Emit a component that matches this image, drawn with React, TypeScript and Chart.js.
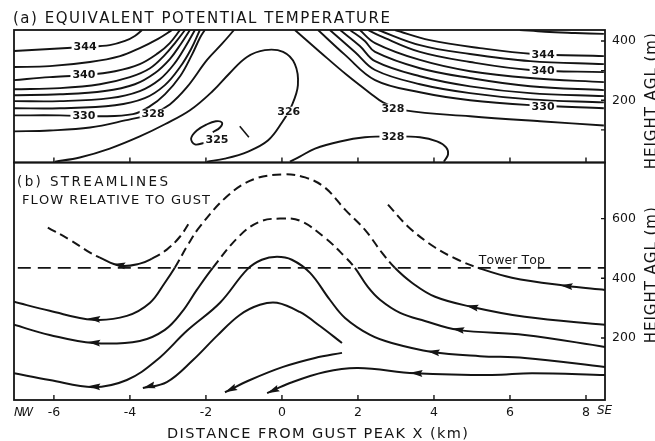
import React, { useEffect, useRef } from 'react';
import { Chart, registerables } from 'chart.js';

Chart.register(...registerables);

// ---------------- data: x in km from gust peak, y in m AGL ----------------
const X_MIN = -7.05;
const X_MAX = 8.5;
const X_TICKS = [-6, -4, -2, 0, 2, 4, 6, 8];

const THETA_Y_MIN = -10;
const THETA_Y_MAX = 437;
const THETA_Y_TICKS = [100, 200, 300, 400];
const THETA_Y_LABELED = [200, 400];

const FLOW_Y_MIN = -8;
const FLOW_Y_MAX = 788;
const FLOW_Y_TICKS = [200, 400, 600];

const TOWER_TOP_M = 435;
const TOWER_X = [-6.95, 8.5];
const TOWER_LABEL_X = 5.18;

// (a) equivalent potential temperature contours (K)
const TH346_X = [6.26, 6.92, 7.71, 8.47];
const TH346_Y = [437, 431, 427, 424];
const TH344R_X = [2.97, 3.89, 5.21, 6.61, 8.47];
const TH344R_Y = [437, 403, 376, 356, 349];
const TH342R_X = [2.53, 3.63, 4.95, 6.53, 8.47];
const TH342R_Y = [437, 386, 356, 332, 322];
const TH340R_X = [2.26, 2.58, 3.63, 4.95, 6.53, 8.47];
const TH340R_Y = [437, 417, 363, 329, 302, 295];
const TH338R_X = [2.05, 2.45, 3.63, 4.95, 6.53, 8.47];
const TH338R_Y = [437, 393, 336, 298, 275, 261];
const TH336R_X = [1.79, 2.18, 2.45, 3.63, 4.95, 6.53, 8.47];
const TH336R_Y = [437, 400, 363, 308, 275, 247, 234];
const TH334R_X = [1.53, 2.05, 2.45, 3.63, 4.95, 6.53, 8.47];
const TH334R_Y = [437, 383, 332, 281, 247, 224, 214];
const TH332R_X = [1.26, 1.92, 2.45, 3.63, 4.95, 6.53, 8.47];
const TH332R_Y = [437, 363, 302, 254, 224, 203, 193];
const TH330R_X = [0.95, 1.66, 2.45, 3.63, 4.95, 6.61, 8.47];
const TH330R_Y = [437, 353, 268, 227, 200, 183, 173];
const TH328R_X = [0.34, 1.0, 1.71, 2.32, 2.66, 3.24, 4.95, 6.79, 8.47];
const TH328R_Y = [437, 363, 285, 224, 193, 166, 146, 129, 115];

const TH344L_X = [-7.05, -6.11, -5.18, -4.53, -4.13, -3.87, -3.68];
const TH344L_Y = [366, 373, 380, 386, 400, 417, 437];
const TH342L_X = [-7.05, -6.11, -5.05, -4.26, -3.74, -3.26, -2.89];
const TH342L_Y = [312, 315, 329, 349, 376, 407, 437];
const TH340L_X = [-7.05, -6.11, -5.18, -4.39, -3.74, -3.26, -2.95, -2.68];
const TH340L_Y = [268, 278, 285, 298, 322, 359, 393, 437];
const TH338L_X = [-7.05, -5.84, -4.79, -4.0, -3.47, -3.08, -2.79, -2.55];
const TH338L_Y = [237, 241, 254, 278, 308, 353, 397, 437];
const TH336L_X = [-7.05, -5.84, -4.66, -3.87, -3.34, -2.95, -2.66, -2.42];
const TH336L_Y = [217, 220, 231, 254, 292, 339, 390, 437];
const TH334L_X = [-7.05, -5.84, -4.53, -3.74, -3.21, -2.82, -2.53, -2.29];
const TH334L_Y = [197, 197, 207, 231, 271, 325, 383, 437];
const TH332L_X = [-7.05, -5.84, -4.39, -3.61, -3.08, -2.68, -2.39, -2.16];
const TH332L_Y = [173, 173, 183, 207, 251, 312, 373, 437];
const TH330L_X = [-7.05, -5.84, -4.79, -3.92, -3.47, -3.08, -2.68, -2.37, -2.16, -2.03];
const TH330L_Y = [149, 149, 146, 153, 180, 220, 281, 353, 410, 437];
const TH328L_X = [-7.05, -6.11, -5.05, -4.13, -3.39, -2.95, -2.5, -1.97, -1.58, -1.26];
const TH328L_Y = [95, 98, 108, 132, 156, 186, 244, 336, 390, 437];

const TH326_X = [-5.97, -5.32, -4.53, -3.74, -3.08, -2.42, -1.82, -1.37, -0.92, -0.45, 0.03, 0.34, 0.42, 0.26, 0, -0.37, -0.89, -1.5, -1.97];
const TH326_Y = [-7, 7, 37, 78, 119, 166, 231, 292, 346, 369, 363, 322, 251, 183, 125, 64, 27, 3, -7];
const TH325_X = [-2.0, -2.29, -2.39, -2.24, -1.97, -1.74, -1.58, -1.63, -1.82];
const TH325_Y = [58, 51, 71, 98, 119, 129, 125, 108, 92];
const TH328B_X = [0.21, 0.47, 0.87, 1.53, 2.18, 2.92, 3.63, 4.08, 4.32, 4.37, 4.26];
const TH328B_Y = [-7, 10, 37, 61, 75, 78, 75, 61, 41, 17, -7];
const MARK_X = [-1.11, -0.87];
const MARK_Y = [112, 75];

const THETA_LABELS = [
  { text: '344', x: -5.18, y: 380 },
  { text: '340', x: -5.21, y: 285 },
  { text: '330', x: -5.21, y: 149 },
  { text: '328', x: -3.39, y: 156 },
  { text: '325', x: -1.71, y: 68 },
  { text: '326', x: 0.18, y: 163 },
  { text: '328', x: 2.92, y: 173 },
  { text: '328', x: 2.92, y: 78 },
  { text: '344', x: 6.87, y: 353 },
  { text: '340', x: 6.87, y: 300 },
  { text: '330', x: 6.87, y: 180 },
];

// (b) streamlines, flow relative to gust
const SA_X = [-6.16, -5.58, -5.05, -4.79, -4.26, -3.74, -3.42, -3.03, -2.68, -2.42];
const SA_Y = [570, 529, 486, 469, 442, 449, 466, 496, 540, 590];
const SB_X = [-7.05, -6.11, -4.97, -4.08, -3.47, -3.08, -2.82, -2.47, -2.16, -1.45, -0.76, 0.03, 0.61, 1.13, 1.66, 2.18, 2.63, 2.97, 3.42, 4.03, 5.0, 6.39, 8.5];
const SB_Y = [321, 291, 261, 274, 318, 385, 435, 513, 573, 674, 731, 748, 738, 704, 630, 563, 486, 435, 385, 338, 304, 271, 244];
const SC_X = [-7.05, -6.11, -4.97, -3.74, -3.08, -2.63, -2.24, -1.82, -1.11, -0.58, -0.05, 0.47, 1.13, 1.66, 1.92, 2.26, 2.58, 3.11, 3.76, 4.63, 6.39, 8.5];
const SC_Y = [244, 210, 183, 190, 227, 287, 361, 435, 543, 590, 600, 593, 536, 472, 435, 371, 328, 284, 257, 227, 210, 170];
const SD_X = [-7.05, -6.11, -4.97, -4.08, -3.29, -2.5, -1.63, -0.92, -0.53, -0.13, 0.26, 0.74, 1.26, 1.66, 2.32, 2.89, 3.95, 5.21, 6.39, 8.5];
const SD_Y = [82, 59, 35, 59, 126, 224, 318, 429, 462, 472, 462, 418, 328, 267, 210, 183, 153, 139, 133, 103];
const SE_X = [-3.66, -3.03, -2.34, -1.71, -1.11, -0.58, -0.13, 0.47, 1.0, 1.58];
const SE_Y = [32, 52, 126, 207, 277, 311, 318, 287, 240, 183];
const SF_X = [-1.5, -0.84, 0.03, 0.87, 1.58];
const SF_Y = [18, 59, 103, 133, 150];
const SG_X = [-0.39, 0.21, 1.13, 2.0, 3.5, 5.53, 6.58, 8.5];
const SG_Y = [15, 49, 86, 99, 82, 76, 82, 76];
const SR_X = [2.79, 3.32, 4.03, 4.63, 5.16, 6.05, 7.45, 8.5];
const SR_Y = [647, 573, 503, 462, 435, 402, 375, 361];

// arrowheads: tip (x, y) and a point just upstream (x, y)
const ARROWS = [
  [-4.45, 448, -4.13, 442],
  [-5.11, 265, -4.79, 262],
  [-5.11, 186, -4.79, 183],
  [-5.11, 38, -4.79, 36],
  [-3.66, 32, -3.36, 42],
  [-1.5, 18, -1.22, 35],
  [-0.39, 15, -0.1, 31],
  [4.84, 309, 5.16, 300],
  [4.47, 232, 4.79, 225],
  [3.82, 156, 4.13, 150],
  [3.37, 83, 3.68, 81],
  [7.32, 377, 7.63, 372],
];

// ---------------- styles ----------------
const INK = '#141414';
const FONT = '"DejaVu Sans", "Liberation Sans", sans-serif';

const THETA_CONTOURS: [number[], number[]][] = [
  [TH346_X, TH346_Y], [TH344R_X, TH344R_Y], [TH342R_X, TH342R_Y], [TH340R_X, TH340R_Y],
  [TH338R_X, TH338R_Y], [TH336R_X, TH336R_Y], [TH334R_X, TH334R_Y], [TH332R_X, TH332R_Y],
  [TH330R_X, TH330R_Y], [TH328R_X, TH328R_Y],
  [TH344L_X, TH344L_Y], [TH342L_X, TH342L_Y], [TH340L_X, TH340L_Y], [TH338L_X, TH338L_Y],
  [TH336L_X, TH336L_Y], [TH334L_X, TH334L_Y], [TH332L_X, TH332L_Y], [TH330L_X, TH330L_Y],
  [TH328L_X, TH328L_Y], [TH326_X, TH326_Y], [TH325_X, TH325_Y], [TH328B_X, TH328B_Y],
];

const STREAMLINES: { xs: number[]; ys: number[]; dashAbove: number }[] = [
  { xs: SA_X, ys: SA_Y, dashAbove: 465 },
  { xs: SB_X, ys: SB_Y, dashAbove: TOWER_TOP_M },
  { xs: SC_X, ys: SC_Y, dashAbove: TOWER_TOP_M },
  { xs: SD_X, ys: SD_Y, dashAbove: Infinity },
  { xs: SE_X, ys: SE_Y, dashAbove: Infinity },
  { xs: SF_X, ys: SF_Y, dashAbove: Infinity },
  { xs: SG_X, ys: SG_Y, dashAbove: Infinity },
  { xs: SR_X, ys: SR_Y, dashAbove: TOWER_TOP_M },
];

const pts = (xs: number[], ys: number[]) => xs.map((x, i) => ({ x, y: ys[i] }));

function spacedText(ctx: CanvasRenderingContext2D, text: string, x: number, y: number, width: number, font: string) {
  ctx.font = font;
  const chars = Array.from(text);
  const widths = chars.map((c) => ctx.measureText(c).width);
  const natural = widths.reduce((a, b) => a + b, 0);
  const gap = chars.length > 1 ? (width - natural) / (chars.length - 1) : 0;
  let cx = x;
  chars.forEach((c, i) => {
    ctx.fillText(c, cx, y);
    cx += widths[i] + gap;
  });
}

const figurePlugin = {
  id: 'figureOverlay',
  afterDatasetsDraw(chart: any) {
    const { ctx, chartArea: area } = chart;
    const xs = chart.scales.x;
    const ya = chart.scales.ya;
    const yb = chart.scales.yb;
    ctx.save();

    // contour labels knocked out of the lines
    ctx.font = `bold 11px ${FONT}`;
    ctx.textAlign = 'center';
    ctx.textBaseline = 'middle';
    THETA_LABELS.forEach((l) => {
      const px = xs.getPixelForValue(l.x);
      const py = ya.getPixelForValue(l.y);
      const w = ctx.measureText(l.text).width;
      ctx.fillStyle = '#fff';
      ctx.fillRect(px - w / 2 - 2, py - 4.5, w + 4, 9);
      ctx.fillStyle = INK;
      ctx.fillText(l.text, px, py + 0.5);
    });

    // arrowheads
    ctx.fillStyle = INK;
    ARROWS.forEach(([tx, ty, bx, by]) => {
      const x1 = xs.getPixelForValue(tx);
      const y1 = yb.getPixelForValue(ty);
      const x0 = xs.getPixelForValue(bx);
      const y0 = yb.getPixelForValue(by);
      const a = Math.atan2(y1 - y0, x1 - x0);
      const L = 12.5;
      const H = 3.4;
      const c = Math.cos(a);
      const s = Math.sin(a);
      ctx.beginPath();
      ctx.moveTo(x1, y1);
      ctx.lineTo(x1 - L * c + H * s, y1 - L * s - H * c);
      ctx.lineTo(x1 - L * 0.85 * c, y1 - L * 0.85 * s);
      ctx.lineTo(x1 - L * c - H * s, y1 - L * s + H * c);
      ctx.closePath();
      ctx.fill();
    });

    // frames
    ctx.strokeStyle = INK;
    ctx.lineWidth = 1.8;
    ctx.strokeRect(area.left, ya.top, area.right - area.left, ya.bottom - ya.top);
    ctx.strokeRect(area.left, yb.top, area.right - area.left, yb.bottom - yb.top);

    // inside tick marks
    ctx.lineWidth = 1.4;
    ctx.beginPath();
    X_TICKS.forEach((v) => {
      const px = xs.getPixelForValue(v);
      ctx.moveTo(px, ya.bottom);
      ctx.lineTo(px, ya.bottom - 5);
      ctx.moveTo(px, yb.bottom);
      ctx.lineTo(px, yb.bottom - 5);
    });
    THETA_Y_TICKS.forEach((v) => {
      const py = ya.getPixelForValue(v);
      ctx.moveTo(area.right, py);
      ctx.lineTo(area.right - 4, py);
    });
    FLOW_Y_TICKS.forEach((v) => {
      const py = yb.getPixelForValue(v);
      ctx.moveTo(area.right, py);
      ctx.lineTo(area.right - 4, py);
    });
    ctx.stroke();

    // texts
    ctx.fillStyle = INK;
    ctx.textAlign = 'left';
    ctx.textBaseline = 'alphabetic';
    spacedText(ctx, '(a) EQUIVALENT POTENTIAL TEMPERATURE', area.left - 1, area.top - 7, 377, `15px ${FONT}`);
    spacedText(ctx, '(b) STREAMLINES', area.left + 3, yb.top + 23.5, 151, `13.5px ${FONT}`);
    spacedText(ctx, 'FLOW RELATIVE TO GUST', area.left + 8, yb.top + 41.5, 188, `13px ${FONT}`);
    spacedText(ctx, 'Tower Top', xs.getPixelForValue(TOWER_LABEL_X), yb.getPixelForValue(TOWER_TOP_M) - 4, 66, `12.5px ${FONT}`);
    spacedText(ctx, 'DISTANCE FROM GUST PEAK X (km)', area.left + 153, yb.bottom + 38, 301, `14.5px ${FONT}`);
    spacedText(ctx, 'NW', area.left, yb.bottom + 16, 19, `italic 12px ${FONT}`);
    spacedText(ctx, 'SE', area.right - 8, yb.bottom + 14, 15, `italic 12px ${FONT}`);

    [(ya.top + ya.bottom) / 2 + 5, (yb.top + yb.bottom) / 2 - 6].forEach((cy) => {
      ctx.save();
      ctx.translate(area.right + 51, cy);
      ctx.rotate(-Math.PI / 2);
      spacedText(ctx, 'HEIGHT AGL (m)', -68, 0, 136, `15px ${FONT}`);
      ctx.restore();
    });

    ctx.restore();
  },
};

function buildDatasets() {
  const ds: any[] = [];
  THETA_CONTOURS.forEach(([xArr, yArr]) => {
    ds.push({
      data: pts(xArr, yArr),
      yAxisID: 'ya',
      borderColor: INK,
      borderWidth: 1.9,
      pointRadius: 0,
      pointHoverRadius: 0,
      tension: 0.38,
      fill: false,
    });
  });
  ds.push({
    data: pts(MARK_X, MARK_Y),
    yAxisID: 'ya',
    borderColor: INK,
    borderWidth: 1.6,
    pointRadius: 0,
    tension: 0,
    fill: false,
  });
  STREAMLINES.forEach((s) => {
    const thr = s.dashAbove;
    ds.push({
      data: pts(s.xs, s.ys),
      yAxisID: 'yb',
      borderColor: INK,
      borderWidth: 2,
      pointRadius: 0,
      pointHoverRadius: 0,
      tension: 0.38,
      fill: false,
      segment: {
        borderDash: (c: any) => (c.p0.parsed.y >= thr && c.p1.parsed.y >= thr ? [9, 5] : undefined),
      },
    });
  });
  ds.push({
    data: pts(TOWER_X, [TOWER_TOP_M, TOWER_TOP_M]),
    yAxisID: 'yb',
    borderColor: INK,
    borderWidth: 1.7,
    borderDash: [13, 7],
    pointRadius: 0,
    tension: 0,
    fill: false,
  });
  return ds;
}

const tickFont = { family: FONT, size: 12.5 };

export default function App() {
  const ref = useRef<HTMLCanvasElement>(null);
  useEffect(() => {
    const canvas = ref.current;
    if (!canvas) return;
    const chart = new Chart(canvas, {
      type: 'line',
      data: { datasets: buildDatasets() },
      plugins: [figurePlugin],
      options: {
        animation: false,
        responsive: false,
        maintainAspectRatio: false,
        events: [],
        layout: { padding: { left: 14, top: 30, right: 10, bottom: 21 } },
        plugins: { legend: { display: false }, tooltip: { enabled: false }, title: { display: false } },
        scales: {
          x: {
            type: 'linear',
            position: 'bottom',
            min: X_MIN,
            max: X_MAX,
            grid: { display: false, drawTicks: false },
            border: { display: false },
            afterBuildTicks: (s: any) => {
              s.ticks = X_TICKS.map((v) => ({ value: v }));
            },
            afterFit: (s: any) => {
              s.height = 20;
            },
            ticks: { font: tickFont, color: INK, padding: 5, maxRotation: 0, autoSkip: false, callback: (v: any) => String(v) },
          },
          ya: {
            type: 'linear',
            position: 'right',
            stack: 'panels',
            stackWeight: 132.5,
            min: THETA_Y_MIN,
            max: THETA_Y_MAX,
            grid: { display: false, drawTicks: false },
            border: { display: false },
            afterBuildTicks: (s: any) => {
              s.ticks = THETA_Y_TICKS.map((v) => ({ value: v }));
            },
            afterFit: (s: any) => {
              s.width = 40;
            },
            ticks: {
              font: tickFont,
              color: INK,
              padding: 7,
              autoSkip: false,
              callback: (v: any) => (THETA_Y_LABELED.includes(Number(v)) ? String(v) : ''),
            },
          },
          yb: {
            type: 'linear',
            position: 'right',
            stack: 'panels',
            stackWeight: 237.5,
            min: FLOW_Y_MIN,
            max: FLOW_Y_MAX,
            grid: { display: false, drawTicks: false },
            border: { display: false },
            afterBuildTicks: (s: any) => {
              s.ticks = FLOW_Y_TICKS.map((v) => ({ value: v }));
            },
            afterFit: (s: any) => {
              s.width = 40;
            },
            ticks: { font: tickFont, color: INK, padding: 7, autoSkip: false, callback: (v: any) => String(v) },
          },
        },
      } as any,
    });
    return () => chart.destroy();
  }, []);
  return (
    <div style={{ position: 'absolute', left: 0, top: 0, width: 655, height: 441, background: '#fff' }}>
      <canvas ref={ref} width={655} height={441} style={{ display: 'block', width: 655, height: 441 }} />
    </div>
  );
}
